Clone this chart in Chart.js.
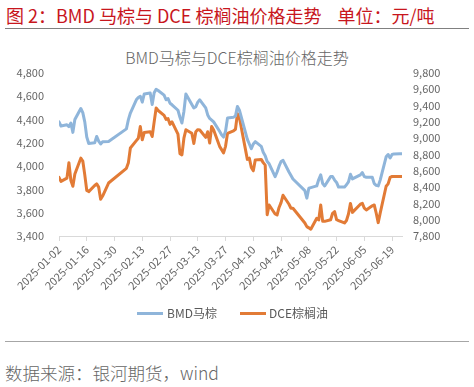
<!DOCTYPE html>
<html><head><meta charset="utf-8">
<script src="https://cdn.jsdelivr.net/npm/chart.js@4"></script>
<style>
html,body{margin:0;padding:0;background:#fff;width:474px;height:387px;overflow:hidden;font-family:"Noto Sans CJK SC","Noto Sans",sans-serif;}
#hdr{position:absolute;left:6px;top:3px;font-size:18px;line-height:24px;color:#C8161D;white-space:pre;}
#l1{position:absolute;left:5px;top:28px;width:464px;height:0;border-top:1.5px solid #808080;}
#l2{position:absolute;left:5px;top:341px;width:464px;height:0;border-top:1px solid #a6a6a6;}
#ftr{position:absolute;left:5px;top:362px;font-size:17.5px;line-height:22px;color:#666;font-weight:300;white-space:pre;}
#ttl{position:absolute;left:0;width:474px;top:47px;text-align:center;font-size:16px;line-height:20px;color:#666;font-weight:300;}
#cv{position:absolute;left:0;top:40px;}
.lg{position:absolute;height:3px;top:312px;width:26px;}
.lt{position:absolute;top:304px;font-size:12px;line-height:18px;color:#595959;white-space:pre;}
</style></head><body>
<div id="hdr">图 2：BMD 马棕与 DCE 棕榈油价格走势    单位：元/吨</div>
<div id="l1"></div>
<div id="ttl">BMD马棕与DCE棕榈油价格走势</div>
<canvas id="cv" width="474" height="290" style="width:474px;height:290px"></canvas>
<div class="lg" style="left:137px;background:#8FB5DA"></div><div class="lt" style="left:167px">BMD马棕</div>
<div class="lg" style="left:240px;background:#E27B36"></div><div class="lt" style="left:269px">DCE棕榈油</div>
<div id="l2"></div>
<div id="ftr">数据来源：银河期货，wind</div>
<script>
const dates = ['2025-01-02','2025-01-03','2025-01-06','2025-01-07','2025-01-08','2025-01-09','2025-01-10','2025-01-13','2025-01-14','2025-01-15','2025-01-16','2025-01-17','2025-01-20','2025-01-21','2025-01-22','2025-01-23','2025-01-24','2025-01-27',
'2025-02-05','2025-02-06','2025-02-07','2025-02-10','2025-02-11','2025-02-12','2025-02-13','2025-02-14','2025-02-17','2025-02-18','2025-02-19','2025-02-20','2025-02-21','2025-02-24','2025-02-25','2025-02-26','2025-02-27','2025-02-28',
'2025-03-03','2025-03-04','2025-03-05','2025-03-06','2025-03-07','2025-03-10','2025-03-11','2025-03-12','2025-03-13','2025-03-14','2025-03-17','2025-03-18','2025-03-19','2025-03-20','2025-03-21','2025-03-24','2025-03-25','2025-03-26','2025-03-27','2025-03-28','2025-03-31',
'2025-04-01','2025-04-02','2025-04-03','2025-04-07','2025-04-08','2025-04-09','2025-04-10','2025-04-11','2025-04-14','2025-04-15','2025-04-16','2025-04-17','2025-04-18','2025-04-21','2025-04-22','2025-04-23','2025-04-24','2025-04-25','2025-04-28','2025-04-29','2025-04-30',
'2025-05-06','2025-05-07','2025-05-08','2025-05-09','2025-05-12','2025-05-13','2025-05-14','2025-05-15','2025-05-16','2025-05-19','2025-05-20','2025-05-21','2025-05-22','2025-05-23','2025-05-26','2025-05-27','2025-05-28','2025-05-29','2025-05-30',
'2025-06-03','2025-06-04','2025-06-05','2025-06-06','2025-06-09','2025-06-10','2025-06-11','2025-06-12','2025-06-13','2025-06-16','2025-06-17','2025-06-18','2025-06-19','2025-06-20','2025-06-23','2025-06-24'];

const bmd = [4380,4345,4355,4340,4370,4290,4400,4495,4460,4380,4250,4195,4200,4255,4215,4190,4210,4212,
4320,4400,4456,4570,4590,4600,4550,4620,4628,4530,4630,4660,4650,4610,4570,4580,4540,4527,
4480,4420,4370,4470,4620,4530,4500,4510,4550,4570,4500,4440,4410,4395,4380,4300,4270,4250,4300,4413,4420,
4430,4513,4480,4230,4190,4150,4190,4210,4170,4120,4090,4040,4020,3910,3950,4000,4040,4050,3950,3920,3890,
3790,3725,3810,3815,3830,3885,3925,3850,3830,3910,3910,3880,3860,3820,3820,3840,3865,3930,3890,
3925,3945,3910,3905,3905,3850,3835,3830,3880,4080,4100,4070,4100,4105,4106,4106];

const dce = [8520,8470,8510,8700,8480,8410,8560,8755,8720,8550,8360,8345,8420,8440,8400,8250,8290,8450,
8630,8700,8880,8970,9000,9144,8980,9070,9080,9021,9200,9370,9340,9280,9230,9240,9170,9200,
9050,8810,8796,9000,9103,9060,8935,9080,9105,9100,9010,9080,8940,9144,9100,8900,8860,8820,8900,9060,9090,
9110,9300,9250,8740,8755,8640,8600,8734,8740,8700,8670,8060,8180,8070,8058,8150,8210,8300,8190,8141,8141,
7960,7915,7900,7883,8018,7997,8181,7980,7980,8000,8079,8100,8000,7990,7960,7990,8070,8200,8090,
8190,8200,8141,8120,8170,8181,8079,7964,8080,8410,8440,8520,8530,8530,8530,8530];

const xTickLabels = ['2025-01-02','2025-01-16','2025-01-30','2025-02-13','2025-02-27','2025-03-13','2025-03-27','2025-04-10','2025-04-24','2025-05-08','2025-05-22','2025-06-05','2025-06-19'];
const leftTicks = [3400,3600,3800,4000,4200,4400,4600,4800];
const rightTicks = [7800,8000,8200,8400,8600,8800,9000,9200,9400,9600,9800];
const seriesNames = ['BMD马棕','DCE棕榈油'];

const DAY = 86400000;
const t0 = Date.UTC(2025,0,2);
const dayOf = s => { const p = s.split('-').map(Number); return Math.round((Date.UTC(p[0],p[1]-1,p[2]) - t0)/DAY); };
const xs = dates.map(dayOf);
const lastDay = xs[xs.length-1];
const tickDays = xTickLabels.map(dayOf);

const fmt = v => v.toLocaleString('en-US');
const tickFont = {family:'"Noto Sans CJK SC","Noto Sans",sans-serif', size:11};

new Chart(document.getElementById('cv'), {
  type:'line',
  data:{datasets:[
    {label:seriesNames[0], data:xs.map((x,i)=>({x, y:bmd[i]})), yAxisID:'yL', borderColor:'#8FB5DA', borderWidth:3, pointRadius:0, tension:0, borderJoinStyle:'round', borderCapStyle:'round'},
    {label:seriesNames[1], data:xs.map((x,i)=>({x, y:dce[i]})), yAxisID:'yR', borderColor:'#E27B36', borderWidth:3, pointRadius:0, tension:0, borderJoinStyle:'round', borderCapStyle:'round'}
  ]},
  options:{
    responsive:false, animation:false, devicePixelRatio:1,
    layout:{padding:{top:33,left:0,right:0,bottom:0}},
    plugins:{legend:{display:false}, title:{display:false}, tooltip:{enabled:false}},
    scales:{
      x:{type:'linear', min:0, max:lastDay,
        afterBuildTicks: s => { s.ticks = tickDays.map(v=>({value:v})); },
        ticks:{autoSkip:false, maxRotation:45, minRotation:45, color:'#666', font:tickFont, padding:2,
          callback:(v)=>{ const i = tickDays.indexOf(v); return i>=0 ? xTickLabels[i] : ''; }},
        grid:{display:true, drawOnChartArea:false, drawTicks:true, tickLength:5, color:'#d9d9d9', lineWidth:1},
        border:{display:true, color:'#d9d9d9', width:1},
        afterFit: s => { s.height = 94; }
      },
      yL:{position:'left', min:leftTicks[0], max:leftTicks[leftTicks.length-1],
        afterBuildTicks: s => { s.ticks = leftTicks.map(v=>({value:v})); },
        ticks:{color:'#666', font:tickFont, padding:15, callback:v=>fmt(v)},
        grid:{display:false, drawTicks:false}, border:{display:false},
        afterFit: s => { s.width = 59; }
      },
      yR:{position:'right', min:rightTicks[0], max:rightTicks[rightTicks.length-1],
        afterBuildTicks: s => { s.ticks = rightTicks.map(v=>({value:v})); },
        ticks:{color:'#666', font:tickFont, padding:11, callback:v=>fmt(v)},
        grid:{display:false, drawTicks:false}, border:{display:false},
        afterFit: s => { s.width = 72; }
      }
    }
  }
});
</script>
</body></html>
